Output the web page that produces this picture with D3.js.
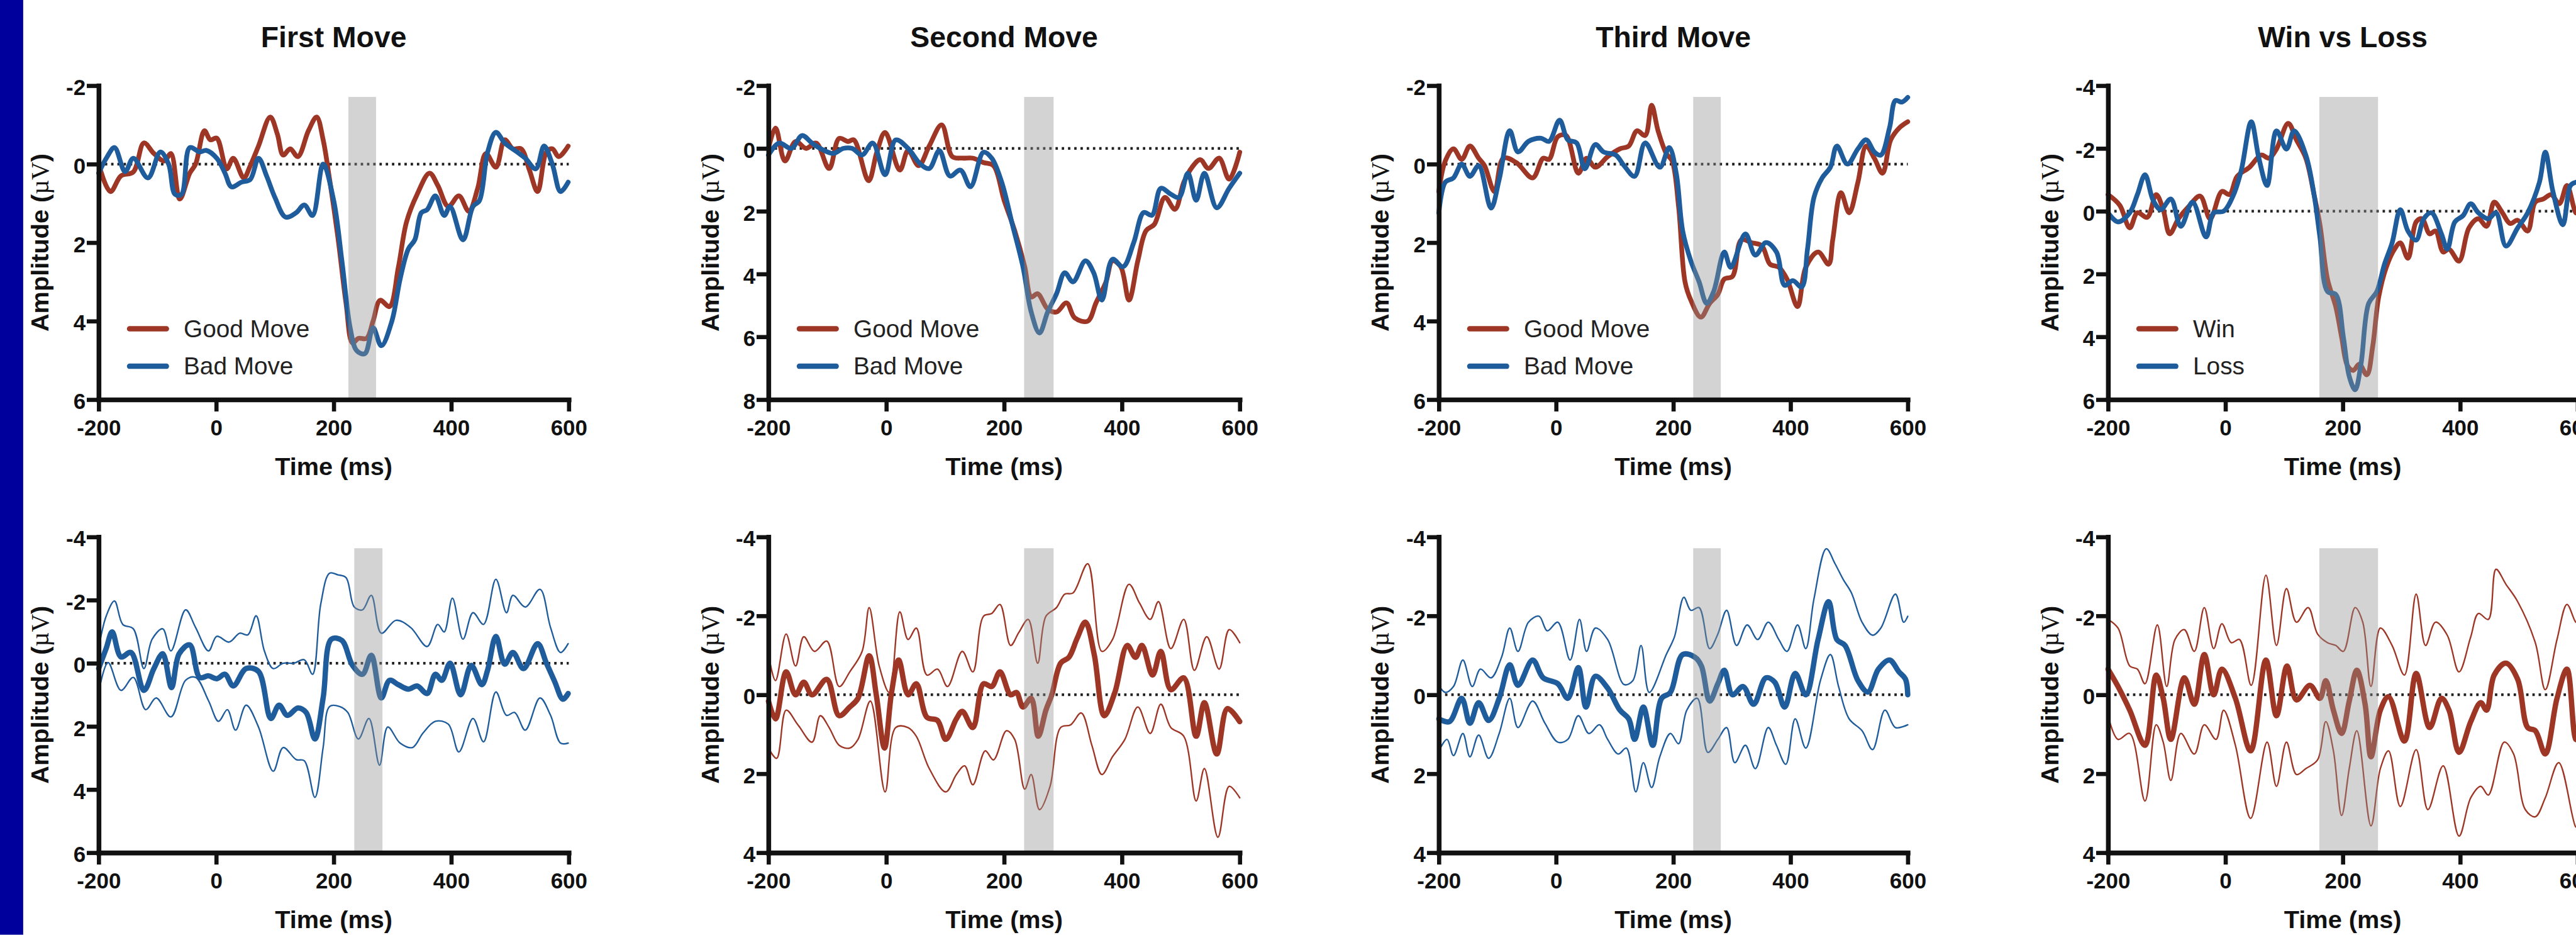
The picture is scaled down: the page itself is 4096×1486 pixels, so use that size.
<!DOCTYPE html>
<meta charset="utf-8">
<style>
body { margin: 0; background: #fff; }
text { font-family: "Liberation Sans", Arial, Helvetica, sans-serif; fill: #111; }
.axis path, .axis line { stroke: #111; }
.axis .domain { stroke-width: 8px; stroke-linecap: square; }
.axis line { stroke-width: 7px; }
.axis text { font-size: 37px; font-weight: bold; }
.title { font-size: 49px; font-weight: bold; }
.label { font-size: 42px; font-weight: bold; }
.legend text { font-size: 41px; fill: #222; }
.zero { stroke: #222; stroke-width: 4.5px; stroke-dasharray: 4 6.5; }
.band { fill: #919191; opacity: 0.4; }
.trace { fill: none; stroke-linejoin: round; stroke-linecap: round; }
</style>
<body>
<script src="https://d3js.org/d3.v7.min.js"></script>
<script>

// ---- data: [time (ms), amplitude (uV)] ----
var xTicks = [-200, 0, 200, 400, 600];

var firstGood = [[-200,0],[-180,0.7],[-162,0.3],[-141,0.2],[-123,-0.54],[-106,-0.27],[-88,-0.08],[-77,-0.27],[-62,0.89],[-45,0.23],[-35,0],[-20,-0.85],[-10,-0.62],[1,-0.66],[18,0.12],[29,-0.15],[47,0.35],[58,0.04],[72,-0.46],[92,-1.2],[104,-0.77],[114,-0.23],[126,-0.39],[139,-0.19],[157,-0.85],[171,-1.2],[182,-0.62],[193,0.39],[207,1.85],[221,3.55],[232,4.56],[242,4.44],[256,4.44],[267,4.0],[279,3.47],[295,3.63],[310,2.63],[324,1.47],[342,0.77],[363,0.23],[377,0.54],[395,1.08],[413,0.81],[430,1.2],[445,0.62],[459,-0.27],[476,0.08],[491,-0.62],[505,-0.39],[519,-0.39],[533,0.15],[547,0.7],[562,-0.31],[572,-0.39],[583,-0.19],[599,-0.46]];
var firstBad = [[-200,0.23],[-187,-0.15],[-173,-0.42],[-155,0.19],[-141,-0.15],[-116,0.35],[-95,-0.31],[-81,0],[-70,0.77],[-59,0.77],[-45,-0.42],[-28,-0.31],[-17,-0.35],[1,-0.15],[15,0.23],[26,0.58],[43,0.46],[58,0.39],[72,-0.15],[86,0.31],[100,0.85],[118,1.35],[136,1.24],[150,1.04],[164,1.31],[182,0],[200,0.93],[214,2.47],[228,4.17],[239,4.75],[253,4.83],[267,4.17],[281,4.63],[299,4.0],[313,2.93],[327,2.16],[338,1.93],[349,1.24],[359,1.16],[373,0.81],[388,1.31],[398,1.08],[420,1.93],[437,1.08],[448,0.93],[462,-0.31],[476,-0.81],[491,-0.54],[512,-0.31],[526,-0.15],[544,0.12],[558,-0.46],[572,0],[586,0.7],[599,0.46]];

var secondGood = [[-200,0],[-188,-0.65],[-172,0.4],[-154,-0.22],[-136,0],[-119,-0.17],[-97,0.64],[-80,-0.32],[-65,-0.22],[-55,-0.27],[-30,1.03],[-16,0.12],[-2,-0.51],[23,0.69],[37,0.07],[55,0.55],[73,-0.08],[94,-0.75],[112,0.26],[129,0.31],[147,0.31],[165,0.45],[182,0.55],[200,1.65],[218,2.62],[235,3.77],[246,4.73],[257,4.63],[274,5.12],[289,5.21],[306,4.92],[320,5.4],[342,5.5],[356,4.92],[373,4.25],[384,3.58],[398,3.77],[412,4.83],[427,3.58],[441,2.62],[455,2.42],[473,1.56],[490,1.94],[505,1.08],[519,0.6],[533,0.36],[547,0.64],[565,0.31],[582,0.98],[600,0.12]];
var secondBad = [[-200,0.21],[-182,-0.17],[-161,0],[-143,-0.41],[-126,-0.17],[-112,0],[-90,0.16],[-73,0],[-58,0],[-41,0.21],[-23,-0.17],[-2,0.84],[16,-0.27],[37,0],[58,0.5],[73,0.64],[90,0.07],[108,0.88],[126,0.69],[143,1.22],[165,0.12],[179,0.31],[196,1.08],[214,2.42],[232,3.77],[246,5.21],[260,5.88],[274,5.21],[289,4.63],[303,3.96],[317,4.25],[338,3.58],[352,3.96],[366,4.83],[384,3.53],[402,3.77],[420,3.0],[437,2.04],[451,2.13],[466,1.27],[483,1.46],[497,1.56],[512,0.79],[526,1.65],[540,0.79],[561,1.89],[582,1.27],[600,0.79]];

var thirdGood = [[-200,0.7],[-189,-0.08],[-175,-0.39],[-161,-0.12],[-147,-0.46],[-132,-0.15],[-122,0.04],[-105,0.7],[-90,-0.15],[-68,-0.04],[-40,0.35],[-22,-0.15],[-12,-0.12],[3,-0.7],[17,-0.73],[38,0.23],[52,-0.15],[67,0.08],[88,-0.19],[109,-0.39],[124,-0.46],[138,-0.85],[152,-0.73],[163,-1.5],[174,-0.85],[188,-0.27],[198,-0.08],[209,1.08],[220,3.0],[230,3.47],[247,3.9],[262,3.55],[276,3.32],[287,2.93],[301,2.86],[316,1.93],[333,2.0],[351,2.08],[365,2.55],[380,2.63],[394,2.93],[412,3.63],[426,2.63],[447,2.24],[465,2.55],[472,1.93],[486,0.73],[500,1.24],[515,0.46],[529,-0.46],[543,-0.15],[557,0.23],[571,-0.62],[586,-0.93],[600,-1.08]];
var thirdBad = [[-200,1.24],[-189,0.46],[-175,0.35],[-161,0],[-147,0.31],[-132,0.04],[-111,1.12],[-97,0.39],[-79,-0.85],[-65,-0.31],[-47,-0.58],[-26,-0.66],[-12,-0.58],[6,-1.12],[20,-0.62],[35,-0.54],[49,0.12],[67,-0.5],[81,-0.31],[102,-0.23],[116,0.04],[134,0.31],[152,-0.54],[177,0.08],[193,-0.42],[205,0.23],[216,1.7],[230,2.47],[244,3.0],[257,3.55],[269,3.24],[287,2.24],[298,2.63],[323,1.78],[340,2.32],[358,2.0],[376,2.24],[390,3.09],[404,2.97],[419,3.13],[429,2.16],[440,0.85],[454,0.35],[468,0.08],[479,-0.46],[497,0],[515,-0.39],[529,-0.62],[543,-0.31],[554,-0.23],[569,-0.93],[579,-1.62],[590,-1.58],[600,-1.7]];

var winTrace = [[-200,-0.53],[-180,-0.19],[-163,0.53],[-150,0.05],[-133,0.19],[-118,-0.53],[-106,-0.05],[-95,0.72],[-80,0.24],[-63,-0.14],[-43,-0.48],[-26,0.24],[-6,-0.63],[7,-0.53],[20,-1.11],[41,-1.4],[61,-1.79],[74,-1.69],[87,-1.98],[107,-2.8],[121,-2.27],[137,-1.69],[151,-0.53],[161,0.43],[174,2.17],[188,3.04],[198,4.01],[208,4.92],[218,5.07],[228,4.87],[241,5.21],[251,4.3],[261,2.75],[274,1.79],[288,1.21],[298,1.01],[311,1.5],[325,0.34],[335,0.24],[348,0.72],[358,0.63],[371,1.3],[381,1.21],[398,1.59],[415,0.53],[431,0.24],[445,0.48],[458,-0.29],[472,0.05],[485,0.39],[498,0.29],[515,0.63],[528,-0.29],[542,-0.39],[555,-0.53],[569,-0.24],[582,-0.82],[597,0.05],[600,0.05]];
var lossTrace = [[-200,0.05],[-183,0.34],[-163,0.05],[-150,-0.53],[-137,-1.16],[-123,-0.34],[-110,-0.05],[-93,-0.39],[-76,0.48],[-56,-0.29],[-33,0.82],[-20,0.05],[-3,0],[14,-0.53],[27,-1.3],[44,-2.85],[57,-1.69],[71,-0.82],[87,-2.56],[104,-1.98],[117,-2.56],[137,-1.79],[151,-0.53],[161,0.82],[174,2.56],[188,2.65],[201,4.01],[211,5.26],[221,5.69],[231,4.87],[244,2.94],[258,2.56],[271,1.69],[284,1.01],[298,-0.05],[311,0.63],[325,0.92],[338,0.24],[351,0.05],[368,0.72],[378,1.21],[391,0.34],[405,0.14],[418,-0.24],[431,0.05],[448,0.24],[461,0.05],[478,1.11],[498,0.53],[515,0.05],[535,-0.92],[545,-1.88],[558,-0.63],[575,0.43],[588,-0.82],[597,-0.92],[600,-0.92]];

var firstDiff = [[-200,0.17],[-187,-0.48],[-177,-0.99],[-162,-0.2],[-145,-0.34],[-123,0.86],[-106,0.17],[-91,-0.3],[-76,0.77],[-63,-0.3],[-45,-0.58],[-28,0.45],[-13,0.4],[1,0.49],[15,0.35],[29,0.72],[51,0.17],[72,0.26],[93,1.75],[107,1.33],[121,1.65],[139,1.42],[153,1.56],[168,2.4],[182,1.1],[196,-0.76],[214,-0.72],[232,0.07],[249,0.35],[264,-0.25],[281,1.1],[295,0.54],[310,0.68],[327,0.82],[342,0.72],[359,0.96],[373,0.35],[384,0.54],[398,0],[416,1.0],[434,0.07],[452,0.68],[462,0.21],[476,-0.85],[491,0.03],[505,-0.34],[523,0.17],[547,-0.62],[562,0],[576,0.58],[590,1.14],[599,0.96]];
var firstDiffHi = [[-200,-0.48],[-187,-1.5],[-173,-1.97],[-159,-1.23],[-141,-1.09],[-123,0.17],[-109,-0.76],[-91,-1.09],[-77,-0.39],[-52,-1.69],[-35,-1.13],[-13,-0.39],[1,-0.85],[22,-0.67],[40,-0.95],[54,-0.9],[68,-1.5],[82,-0.39],[97,0.17],[114,0],[132,0],[150,-0.11],[164,0.35],[178,-1.88],[193,-2.85],[207,-2.8],[221,-2.71],[235,-1.78],[249,-1.69],[264,-2.15],[281,-0.95],[306,-1.36],[331,-1.13],[359,-0.53],[377,-1.23],[388,-0.99],[402,-2.06],[420,-0.76],[437,-1.6],[455,-1.23],[476,-2.66],[494,-1.6],[505,-2.15],[526,-1.78],[551,-2.34],[569,-1.13],[586,-0.34],[599,-0.62]];
var firstDiffLo = [[-200,0.91],[-184,-0.02],[-162,0.86],[-141,0.45],[-120,1.47],[-102,1.1],[-77,1.7],[-52,0.54],[-35,0.45],[-13,1.19],[4,1.84],[19,1.47],[33,2.12],[51,1.33],[72,2.02],[97,3.42],[114,2.67],[136,3.05],[150,3.09],[168,4.25],[182,2.67],[193,1.37],[210,1.37],[224,1.56],[242,2.4],[260,1.75],[278,3.23],[292,2.02],[313,2.53],[334,2.67],[352,2.21],[373,1.84],[395,1.93],[413,2.81],[437,1.75],[455,2.49],[476,0.91],[494,1.65],[508,1.56],[526,2.12],[551,1.1],[569,1.65],[586,2.53],[599,2.53]];

var secondDiff = [[-200,0.16],[-188,0.61],[-170,-0.58],[-154,0],[-140,-0.32],[-126,0],[-101,-0.39],[-80,0.53],[-62,0.31],[-48,0.09],[-29,-0.99],[-17,0],[-3,1.35],[9,-0.06],[21,-0.88],[37,0],[51,-0.28],[69,0.57],[87,0.65],[101,1.13],[119,0.61],[129,0.42],[147,0.83],[165,-0.28],[179,-0.21],[193,-0.58],[211,0],[221,-0.06],[232,0.31],[246,0.09],[258,1.05],[271,0.39],[281,0],[296,-0.8],[310,-0.95],[324,-1.43],[338,-1.84],[353,-1.02],[370,0.53],[388,-0.06],[409,-1.25],[423,-0.95],[434,-1.25],[452,-0.5],[466,-1.1],[483,-0.13],[505,-0.43],[526,1.05],[540,0.2],[561,1.5],[579,0.35],[600,0.68]];
var secondDiffHi = [[-200,-1.02],[-188,-0.36],[-170,-1.54],[-154,-0.73],[-140,-1.47],[-122,-1.1],[-101,-1.36],[-80,-0.21],[-62,-0.58],[-41,-1.1],[-29,-2.21],[-12,-0.73],[5,-0.06],[23,-2.1],[37,-1.4],[51,-1.69],[69,-0.5],[87,-0.65],[104,-0.21],[129,-1.1],[147,-0.58],[165,-1.99],[179,-2.06],[193,-2.29],[211,-1.25],[225,-1.58],[241,-1.91],[257,-0.8],[271,-1.99],[289,-2.21],[303,-2.55],[317,-2.58],[342,-3.32],[366,-1.1],[384,-1.4],[412,-2.8],[430,-2.32],[448,-1.91],[462,-2.36],[483,-1.17],[505,-1.91],[523,-0.62],[544,-1.47],[565,-0.65],[582,-1.65],[600,-1.32]];
var secondDiffLo = [[-200,1.35],[-186,1.61],[-170,0.39],[-150,0.76],[-126,1.2],[-112,0.53],[-97,0.83],[-80,1.28],[-62,1.35],[-48,1.13],[-27,0.16],[-2,2.46],[16,0.83],[37,0.83],[51,1.05],[73,1.87],[101,2.46],[119,2.02],[133,1.8],[147,2.28],[168,1.42],[182,1.65],[204,0.91],[218,1.13],[235,2.39],[246,2.02],[260,2.91],[278,2.32],[296,0.83],[313,0.76],[331,0.46],[349,1.28],[366,2.02],[384,1.57],[405,1.13],[427,0.31],[448,0.98],[466,0.24],[483,0.83],[505,1.05],[526,2.69],[540,1.87],[563,3.61],[582,2.32],[600,2.61]];

var thirdDiff = [[-200,0.61],[-182,0.68],[-161,0.09],[-147,0.72],[-132,0.2],[-115,0.65],[-97,0.09],[-79,-0.76],[-65,-0.24],[-40,-0.88],[-22,-0.43],[3,-0.28],[20,0.09],[38,-0.69],[51,0.31],[67,-0.47],[88,-0.17],[109,0.39],[124,0.61],[134,1.13],[149,0.31],[165,1.28],[180,0.09],[195,-0.06],[216,-1.02],[237,-0.95],[248,-0.73],[262,0.16],[276,-0.28],[287,-0.62],[301,0],[319,-0.21],[337,0.24],[358,-0.43],[373,-0.32],[390,0.31],[408,-0.54],[426,0],[447,-1.4],[465,-2.36],[479,-1.4],[493,-1.25],[515,-0.36],[532,-0.07],[550,-0.65],[569,-0.88],[585,-0.58],[596,-0.4],[600,0]];
var thirdDiffHi = [[-200,-0.24],[-189,-0.06],[-175,-0.21],[-159,-0.88],[-143,-0.21],[-129,-0.65],[-111,-0.43],[-93,-0.95],[-79,-1.69],[-65,-1.1],[-47,-1.84],[-29,-1.99],[-15,-1.62],[3,-1.84],[24,-0.88],[40,-1.91],[52,-1.1],[67,-1.69],[88,-1.4],[116,-0.26],[131,-0.36],[145,-1.25],[159,-0.06],[188,-1.02],[202,-1.47],[218,-2.47],[230,-2.14],[244,-2.21],[262,-1.17],[276,-1.54],[291,-2.14],[308,-1.25],[326,-1.77],[344,-1.4],[362,-1.84],[380,-1.4],[394,-1.1],[412,-1.77],[426,-1.17],[440,-2.43],[461,-3.7],[476,-3.32],[490,-2.92],[504,-2.58],[522,-1.84],[540,-1.51],[554,-1.69],[579,-2.55],[593,-1.84],[600,-1.99]];
var thirdDiffLo = [[-200,1.42],[-186,1.13],[-175,1.54],[-159,0.98],[-147,1.57],[-132,1.02],[-115,1.61],[-97,0.98],[-79,0.09],[-65,0.83],[-40,0.16],[-19,0.72],[3,1.2],[20,1.13],[38,0.53],[56,0.98],[74,0.76],[88,1.13],[106,1.5],[120,1.35],[136,2.46],[149,1.72],[163,2.35],[177,1.57],[195,0.98],[209,1.24],[223,0.39],[241,0.09],[259,1.46],[276,1.13],[291,0.83],[305,1.72],[323,1.28],[340,1.87],[362,0.83],[376,1.28],[392,1.76],[408,0.61],[426,1.35],[451,-0.36],[468,-1.02],[482,-0.21],[500,0.61],[522,0.91],[540,1.39],[561,0.39],[579,0.83],[600,0.76]];

var winDiff = [[-200,-0.65],[-183,-0.21],[-163,0.39],[-137,1.28],[-118,-0.5],[-106,0.09],[-93,1.13],[-70,-0.43],[-53,0.24],[-36,-1.02],[-20,0],[-6,-0.65],[17,0.09],[43,1.42],[69,-0.88],[87,0.53],[105,-0.73],[121,0.13],[144,-0.24],[161,0.09],[171,-0.36],[184,0.39],[198,0.98],[211,0.16],[224,-0.62],[238,0.24],[248,1.57],[264,0.39],[278,0.05],[305,1.17],[325,-0.54],[348,0.83],[368,0.09],[381,0.39],[398,1.46],[418,0.68],[435,0.2],[445,0.39],[458,-0.5],[478,-0.8],[498,-0.39],[515,0.83],[528,0.91],[545,1.5],[565,0.09],[582,-0.65],[597,1.13],[600,1.13]];
var winDiffHi = [[-200,-1.91],[-183,-1.69],[-163,-0.73],[-150,-0.65],[-137,-0.28],[-116,-1.77],[-100,-0.21],[-86,-1.4],[-70,-1.65],[-53,-1.1],[-36,-2.21],[-20,-1.17],[-6,-1.8],[10,-1.32],[24,-1.4],[44,-0.24],[69,-3.03],[87,-1.25],[104,-2.69],[121,-1.84],[141,-2.21],[157,-1.54],[174,-1.32],[188,-1.25],[201,-1.1],[221,-2.21],[234,-1.84],[248,-0.21],[264,-1.69],[284,-1.25],[305,-0.5],[325,-2.55],[341,-1.25],[358,-1.84],[378,-1.51],[398,-0.58],[418,-1.47],[431,-2.06],[448,-1.91],[461,-3.18],[478,-2.8],[498,-2.36],[528,-1.32],[545,-0.13],[565,-1.4],[582,-2.29],[597,-1.84],[600,-1.84]];
var winDiffLo = [[-200,0.53],[-183,1.13],[-163,0.98],[-137,2.69],[-118,0.76],[-106,1.2],[-93,2.17],[-76,0.98],[-53,1.5],[-36,0.76],[-16,1.13],[-3,0.39],[17,1.28],[43,3.13],[71,1.2],[87,2.32],[104,1.2],[121,2.02],[137,1.87],[157,1.65],[171,0.68],[184,1.42],[198,3.06],[211,1.87],[224,0.91],[248,3.32],[264,1.87],[278,1.42],[298,2.83],[325,1.39],[345,2.91],[371,1.8],[398,3.58],[418,2.61],[435,2.32],[448,2.54],[475,1.2],[491,1.5],[511,2.91],[528,3.09],[545,2.61],[568,1.72],[597,3.35],[600,3.35]];

// ---- layout (reference pixels, whole drawing scaled by 0.945) ----
var RED = "#9e3626", BLUE = "#1f5c9c";
var colX = [166, 1293, 2421, 3547], colW = [791, 793, 789, 790];
var rows = [{top: 144, bottom: 672}, {top: 903, bottom: 1434}];

var panels = [
  {col: 0, row: 0, title: "First Move", y: [-2, 6], band: [225, 272],
   lines: [{d: firstGood, c: RED, w: 8, name: "Good Move"}, {d: firstBad, c: BLUE, w: 8, name: "Bad Move"}]},
  {col: 1, row: 0, title: "Second Move", y: [-2, 8], band: [234, 284],
   lines: [{d: secondGood, c: RED, w: 8, name: "Good Move"}, {d: secondBad, c: BLUE, w: 8, name: "Bad Move"}]},
  {col: 2, row: 0, title: "Third Move", y: [-2, 6], band: [234, 281],
   lines: [{d: thirdGood, c: RED, w: 8, name: "Good Move"}, {d: thirdBad, c: BLUE, w: 8, name: "Bad Move"}]},
  {col: 3, row: 0, title: "Win vs Loss", y: [-4, 6], band: [160, 260],
   lines: [{d: winTrace, c: RED, w: 8, name: "Win"}, {d: lossTrace, c: BLUE, w: 8, name: "Loss"}]},
  {col: 0, row: 1, y: [-4, 6], band: [235, 283],
   lines: [{d: firstDiffHi, c: BLUE, w: 2.5}, {d: firstDiffLo, c: BLUE, w: 2.5}, {d: firstDiff, c: BLUE, w: 9}]},
  {col: 1, row: 1, y: [-4, 4], band: [234, 284],
   lines: [{d: secondDiffHi, c: RED, w: 2.5}, {d: secondDiffLo, c: RED, w: 2.5}, {d: secondDiff, c: RED, w: 9}]},
  {col: 2, row: 1, y: [-4, 4], band: [234, 281],
   lines: [{d: thirdDiffHi, c: BLUE, w: 2.5}, {d: thirdDiffLo, c: BLUE, w: 2.5}, {d: thirdDiff, c: BLUE, w: 9}]},
  {col: 3, row: 1, y: [-4, 4], band: [160, 260],
   lines: [{d: winDiffHi, c: RED, w: 2.5}, {d: winDiffLo, c: RED, w: 2.5}, {d: winDiff, c: RED, w: 9}]}
];

var svg = d3.select("body").append("svg")
    .attr("width", 4096)
    .attr("height", 1486);

svg.append("rect").attr("width", 4096).attr("height", 1486).attr("fill", "#fff");

var root = svg.append("g").attr("transform", "scale(0.945)");

// dark blue strip on the left edge
root.append("rect")
    .attr("x", 0).attr("y", 0)
    .attr("width", 39).attr("height", 1572)
    .attr("fill", "#00009c");

panels.forEach(function(p) {
  var x0 = colX[p.col], x1 = x0 + colW[p.col];
  var r = rows[p.row];
  var x = d3.scaleLinear().domain([-200, 600]).range([x0, x1]);
  var y = d3.scaleLinear().domain(p.y).range([r.top, r.bottom]);
  var g = root.append("g");

  // dotted zero line
  g.append("line")
      .attr("class", "zero")
      .attr("x1", x0).attr("x2", x1)
      .attr("y1", y(0)).attr("y2", y(0));

  var line = d3.line()
      .x(function(d) { return x(d[0]); })
      .y(function(d) { return y(d[1]); })
      .curve(d3.curveCatmullRom.alpha(0.5));

  g.selectAll(".trace")
      .data(p.lines)
    .enter().append("path")
      .attr("class", "trace")
      .attr("stroke", function(d) { return d.c; })
      .attr("stroke-width", function(d) { return d.w; })
      .attr("d", function(d) { return line(d.d); });

  // analysis window
  g.append("rect")
      .attr("class", "band")
      .attr("x", x(p.band[0]))
      .attr("width", x(p.band[1]) - x(p.band[0]))
      .attr("y", r.top + 19)
      .attr("height", r.bottom - r.top - 19);

  // axes
  var yTicks = d3.range(p.y[0], p.y[1] + 1, 2);
  g.append("g")
      .attr("class", "axis")
      .attr("transform", "translate(" + x0 + ",0)")
      .call(d3.axisLeft(y).tickValues(yTicks).tickSize(20).tickSizeOuter(0).tickPadding(2)
        .tickFormat(function(d) { return String(d); }))
      .selectAll("text").attr("dy", "0.42em");

  g.append("g")
      .attr("class", "axis")
      .attr("transform", "translate(0," + r.bottom + ")")
      .call(d3.axisBottom(x).tickValues(xTicks).tickSize(20).tickSizeOuter(0).tickPadding(14)
        .tickFormat(function(d) { return String(d); }));

  // axis titles
  g.append("text")
      .attr("class", "label")
      .attr("text-anchor", "middle")
      .attr("x", (x0 + x1) / 2)
      .attr("y", r.bottom + 127)
      .text("Time (ms)");

  var amp = g.append("text")
      .attr("class", "label")
      .attr("text-anchor", "middle")
      .attr("transform", "translate(" + (x0 - 84) + "," + ((r.top + r.bottom) / 2) + ") rotate(-90)");
  amp.append("tspan").text("Amplitude (");
  amp.append("tspan").style("font-family", "'Liberation Serif', serif").style("font-weight", "normal").text("\u00b5V");
  amp.append("tspan").text(")");

  if (p.title) {
    g.append("text")
        .attr("class", "title")
        .attr("text-anchor", "middle")
        .attr("x", (x0 + x1) / 2)
        .attr("y", 79)
        .text(p.title);

    var leg = g.append("g").attr("class", "legend");
    var legY = [553, 616];
    p.lines.forEach(function(s, i) {
      leg.append("line")
          .attr("x1", x0 + 52).attr("x2", x0 + 114)
          .attr("y1", legY[i]).attr("y2", legY[i])
          .attr("stroke", s.c)
          .attr("stroke-width", 9)
          .attr("stroke-linecap", "round");
      leg.append("text")
          .attr("x", x0 + 143)
          .attr("y", legY[i] + 14)
          .text(s.name);
    });
  }
});

</script>
</body>
